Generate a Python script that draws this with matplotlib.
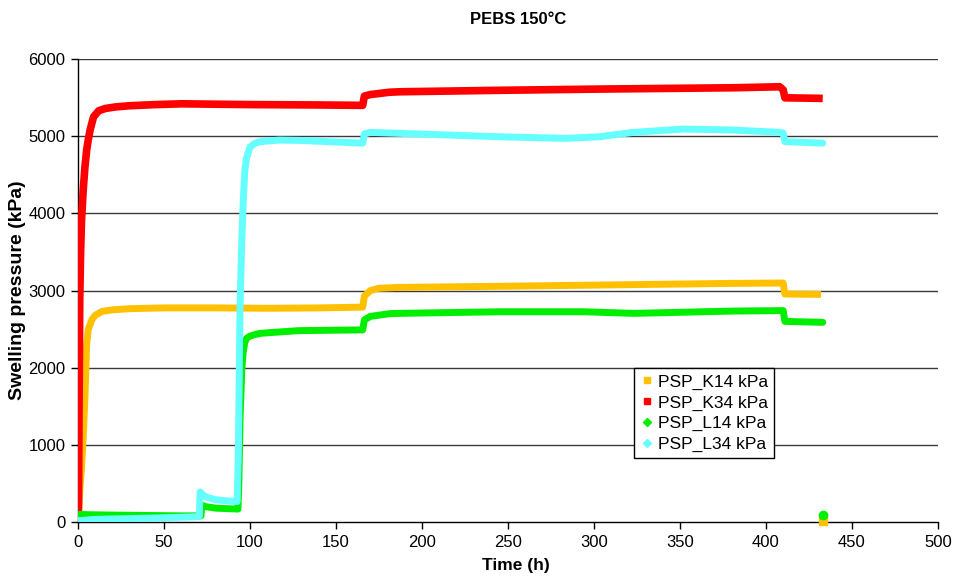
import matplotlib
matplotlib.use("Agg")
import matplotlib.pyplot as plt
from matplotlib.lines import Line2D

plt.rcParams['font.family'] = ['Liberation Sans', 'DejaVu Sans']

# ---- data (time in h, pressure in kPa) ----
k14_t = [0, 0.5, 1, 2, 3, 4, 5, 6, 8, 10, 14, 20, 30, 50, 80, 110, 140, 165.5,
         166.5, 170, 175, 187, 245, 303, 381, 410, 411, 432]
k14_v = [0, 150, 400, 700, 1100, 1600, 2300, 2500, 2620, 2680, 2730, 2750, 2765,
         2775, 2775, 2770, 2775, 2785, 2930, 3000, 3030, 3041, 3055, 3071, 3093,
         3097, 2955, 2950]

k34_t = [0, 0.3, 0.6, 1, 1.5, 2, 3, 4, 5, 6, 7, 9, 12, 16, 22, 30, 45, 60, 100,
         140, 165.5, 166.5, 170, 181, 187, 245, 303, 381, 408, 410, 411, 433]
k34_v = [0, 300, 1500, 2900, 3500, 3900, 4300, 4600, 4820, 4960, 5080, 5250,
         5330, 5360, 5380, 5395, 5410, 5420, 5410, 5405, 5400, 5520, 5540, 5570,
         5576, 5595, 5611, 5628, 5641, 5600, 5498, 5490]

l14_t = [0, 1, 5, 20, 40, 60, 71.5, 72, 74, 80, 88, 93, 93.5, 94.2, 95.2, 96, 97,
         98, 100, 103, 106, 115, 128, 145, 165.5, 166.5, 170, 181, 187, 245, 294,
         323, 381, 410, 411, 433]
l14_v = [50, 100, 95, 90, 85, 80, 80, 220, 200, 180, 172, 168, 500, 1322, 1970,
         2200, 2330, 2380, 2410, 2430, 2445, 2460, 2480, 2485, 2490, 2620, 2665,
         2700, 2704, 2725, 2725, 2704, 2734, 2740, 2600, 2588]

l34_t = [0, 2, 10, 30, 50, 70.5, 71, 72, 75, 80, 86, 92.5, 93.2, 94.2, 95, 96, 97,
         98, 100, 103, 106, 117, 130, 150, 165.5, 166.5, 170, 187, 245, 284, 303,
         323, 352, 381, 408, 410, 411, 433]
l34_v = [20, 20, 35, 45, 55, 70, 390, 360, 320, 290, 275, 265, 890, 2786, 3485,
         4134, 4560, 4720, 4860, 4910, 4930, 4950, 4945, 4925, 4910, 5030, 5050,
         5037, 4993, 4972, 4993, 5050, 5093, 5080, 5050, 5040, 4930, 4911]

# final single readings after unloading
k14_end_t, k14_end_v = [433], [15]
l14_end_t, l14_end_v = [433], [85]

labels = ["PSP_K14 kPa", "PSP_K34 kPa", "PSP_L14 kPa", "PSP_L34 kPa"]
colors = ["#FFC000", "#FF0000", "#00EE00", "#66FFFF"]

x_ticks = list(range(0, 501, 50))
y_ticks = list(range(0, 6001, 1000))

fig = plt.figure(figsize=(9.54, 5.79), dpi=100)
ax = fig.add_axes([0.0818, 0.0984, 0.9014, 0.7996])

for yv in y_ticks[1:]:
    ax.axhline(yv, color="#3a3a3a", lw=1.0, zorder=1)

ax.plot(k14_t, k14_v, color=colors[0], lw=5, solid_capstyle="butt", zorder=2)
ax.plot(k34_t, k34_v, color=colors[1], lw=5.5, solid_capstyle="butt", zorder=3)
ax.plot(l14_t, l14_v, color=colors[2], lw=5, solid_capstyle="round", zorder=4)
ax.plot(l34_t, l34_v, color=colors[3], lw=5, solid_capstyle="round", zorder=5)
ax.plot(k14_end_t, k14_end_v, 's', color=colors[0], ms=6, zorder=4, clip_on=False)
ax.plot(l14_end_t, l14_end_v, 'o', color=colors[2], ms=6, zorder=5)

ax.set_xlim(0, 500)
ax.set_ylim(0, 6000)
ax.set_xticks(x_ticks)
ax.set_yticks(y_ticks)
ax.tick_params(axis="both", direction="out", length=5, width=1, labelsize=12,
               color="black", pad=4)
for side in ("top", "right"):
    ax.spines[side].set_visible(False)
for side in ("left", "bottom"):
    ax.spines[side].set_color("black")
    ax.spines[side].set_linewidth(1.0)

ax.set_xlabel("Time (h)", fontsize=12.5, fontweight="bold")
ax.xaxis.set_label_coords(0.509, -0.078)
ax.xaxis.label.set_va("top")
ax.set_ylabel("Swelling pressure (kPa)", fontsize=14, fontweight="bold")
ax.yaxis.set_label_coords(-0.061, 0.5)
ax.set_title("PEBS 150°C", fontsize=12, fontweight="bold", pad=25, x=0.512)

handles = [
    Line2D([], [], ls="", marker="s", color=colors[0], ms=5),
    Line2D([], [], ls="", marker="s", color=colors[1], ms=5),
    Line2D([], [], ls="", marker="D", color=colors[2], ms=4),
    Line2D([], [], ls="", marker="D", color=colors[3], ms=4),
]
leg = ax.legend(handles, labels, loc="upper left", bbox_to_anchor=(0.647, 0.332),
                fontsize=12.5, frameon=True, fancybox=False, framealpha=1,
                edgecolor="black", handlelength=0.7, handletextpad=0.3,
                labelspacing=0.32, borderpad=0.35, borderaxespad=0)
leg.get_frame().set_linewidth(1.0)
leg.set_zorder(10)

fig.savefig("out.png", dpi=100)
